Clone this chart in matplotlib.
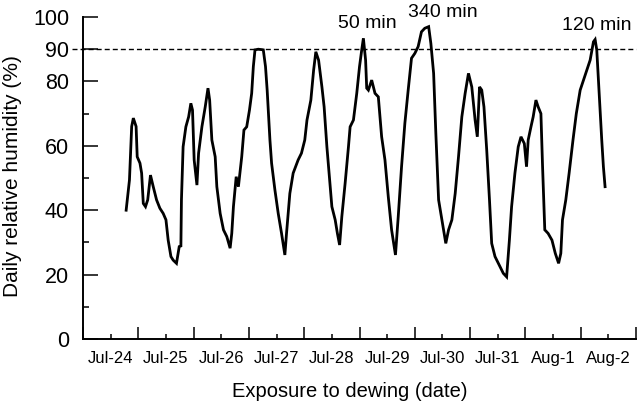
import matplotlib
matplotlib.use('Agg')
import matplotlib.pyplot as plt
from matplotlib.ticker import FixedLocator, FixedFormatter, NullFormatter

plt.rcParams['font.family'] = ['Liberation Sans', 'DejaVu Sans']

# days since Jul-24 00:00 and relative humidity (%)
t_days = [0.78, 0.84, 0.88, 0.91, 0.96, 0.98, 1.03, 1.06, 1.09, 1.13,
          1.17, 1.22, 1.27, 1.33, 1.39, 1.45, 1.50, 1.54, 1.59, 1.63,
          1.69, 1.74, 1.77, 1.78, 1.81, 1.86, 1.91, 1.95, 1.98, 2.01,
          2.06, 2.09, 2.15, 2.21, 2.26, 2.29, 2.33, 2.39, 2.42, 2.48,
          2.54, 2.60, 2.66, 2.69, 2.72, 2.77, 2.81, 2.87, 2.91, 2.96,
          3.01, 3.05, 3.08, 3.11, 3.17, 3.26, 3.30, 3.33, 3.38, 3.41,
          3.47, 3.53, 3.59, 3.65, 3.68, 3.74, 3.80, 3.89, 3.95, 4.01,
          4.05, 4.12, 4.17, 4.21, 4.26, 4.32, 4.36, 4.41, 4.46, 4.50,
          4.56, 4.60, 4.64, 4.68, 4.74, 4.80, 4.83, 4.89, 4.95, 5.00,
          5.04, 5.07, 5.11, 5.13, 5.16, 5.22, 5.28, 5.34, 5.40, 5.46,
          5.52, 5.58, 5.65, 5.70, 5.76, 5.82, 5.88, 5.94, 6.00, 6.06,
          6.12, 6.18, 6.25, 6.29, 6.34, 6.38, 6.43, 6.49, 6.56, 6.61,
          6.67, 6.73, 6.79, 6.85, 6.91, 6.97, 7.03, 7.09, 7.13, 7.17,
          7.21, 7.25, 7.30, 7.35, 7.39, 7.45, 7.51, 7.60, 7.66, 7.71,
          7.75, 7.81, 7.87, 7.92, 7.98, 8.02, 8.05, 8.10, 8.14, 8.19,
          8.23, 8.28, 8.31, 8.35, 8.41, 8.48, 8.54, 8.60, 8.64, 8.67,
          8.73, 8.79, 8.86, 8.92, 8.99, 9.05, 9.11, 9.17, 9.23, 9.26,
          9.29, 9.34, 9.38, 9.41, 9.44]
rh = [40.0, 49.4, 66.0, 68.6, 66.0, 56.6, 54.6, 51.5, 42.1, 41.1,
      43.2, 50.9, 47.3, 43.2, 40.6, 39.0, 37.0, 30.7, 25.6, 24.5,
      23.5, 28.7, 28.9, 43.2, 59.7, 65.9, 69.0, 73.2, 71.1, 55.6,
      47.8, 57.7, 65.9, 72.1, 77.9, 74.2, 61.8, 56.6, 47.3, 39.0,
      33.9, 31.8, 28.2, 32.8, 41.1, 50.4, 47.3, 56.6, 64.9, 65.9,
      71.1, 76.3, 84.6, 89.8, 90.0, 89.8, 84.6, 77.3, 61.8, 54.6,
      46.3, 39.0, 32.8, 26.1, 32.8, 45.2, 51.5, 55.6, 57.7, 61.8,
      68.0, 74.2, 83.5, 89.2, 86.6, 78.3, 72.1, 59.7, 49.4, 41.1,
      37.0, 32.8, 29.2, 38.0, 48.4, 59.7, 65.9, 68.0, 76.3, 84.6,
      89.8, 93.4, 86.6, 77.9, 77.3, 80.4, 76.3, 75.2, 62.8, 55.6,
      44.2, 33.9, 26.1, 38.0, 53.5, 67.0, 77.3, 87.2, 88.7, 90.8,
      95.4, 96.5, 97.0, 91.8, 82.5, 63.9, 43.2, 37.0, 29.7, 33.9,
      37.0, 45.2, 56.6, 69.0, 76.3, 82.5, 78.3, 68.0, 62.8, 78.3,
      77.3, 72.1, 58.7, 43.2, 29.7, 25.6, 23.5, 20.4, 19.3, 30.7,
      41.1, 51.5, 59.7, 62.8, 60.7, 53.5, 61.8, 65.9, 69.0, 74.2,
      72.1, 70.0, 53.5, 33.9, 32.8, 30.7, 26.6, 23.5, 26.6, 37.0,
      43.2, 51.5, 61.8, 70.0, 77.3, 80.4, 83.5, 86.6, 92.3, 93.0,
      89.8, 74.2, 61.8, 53.5, 47.3]

day_labels = ['Jul-24', 'Jul-25', 'Jul-26', 'Jul-27', 'Jul-28',
              'Jul-29', 'Jul-30', 'Jul-31', 'Aug-1', 'Aug-2']
y_major = [0, 20, 40, 60, 80, 90, 100]
y_minor = [10, 30, 50, 70]
threshold = 90

# wetness durations written above the peaks
notes = ['50 min', '340 min', '120 min']
note_x = [5.145, 6.50, 9.29]
note_y = [96.6, 100.1, 96.0]

fig = plt.figure(figsize=(6.4, 4.04), dpi=100)
ax = fig.add_axes([0.1297, 0.1609, 0.8641, 0.797])

ax.plot(t_days, rh, color='black', lw=2.0, solid_joinstyle='miter')
ax.axhline(threshold, xmin=-0.02, xmax=1.0, color='black', lw=1.0,
           linestyle=(0, (3.6, 2.2)), clip_on=False)

for s, x, y in zip(notes, note_x, note_y):
    ax.text(x, y, s, ha='center', va='baseline', fontsize=14)

ax.set_xlim(0, 10)
ax.set_ylim(0, 100)
ax.spines['top'].set_visible(False)
ax.spines['right'].set_visible(False)
ax.spines['left'].set_linewidth(1.4)
ax.spines['bottom'].set_linewidth(1.4)

ax.xaxis.set_major_locator(FixedLocator(range(11)))
ax.xaxis.set_major_formatter(NullFormatter())
ax.xaxis.set_minor_locator(FixedLocator([d + 0.5 for d in range(10)]))
ax.xaxis.set_minor_formatter(FixedFormatter(day_labels))
ax.tick_params(axis='x', which='major', direction='in', length=8.6, width=1.1)
ax.tick_params(axis='x', which='minor', direction='in', length=3.6, width=1.1,
               pad=9, labelsize=12)

ax.yaxis.set_major_locator(FixedLocator(y_major))
ax.yaxis.set_minor_locator(FixedLocator(y_minor))
ax.tick_params(axis='y', which='major', direction='in', length=11, width=1.1,
               pad=10, labelsize=15.5)
ax.tick_params(axis='y', which='minor', direction='in', length=4.3, width=1.1)

fig.text(0.546, 0.018, 'Exposure to dewing (date)', ha='center',
         va='baseline', fontsize=14.5)
fig.text(0.004, 0.563, 'Daily relative humidity (%)', rotation=90,
         ha='left', va='center', fontsize=15)

fig.savefig('out.png', dpi=100)
